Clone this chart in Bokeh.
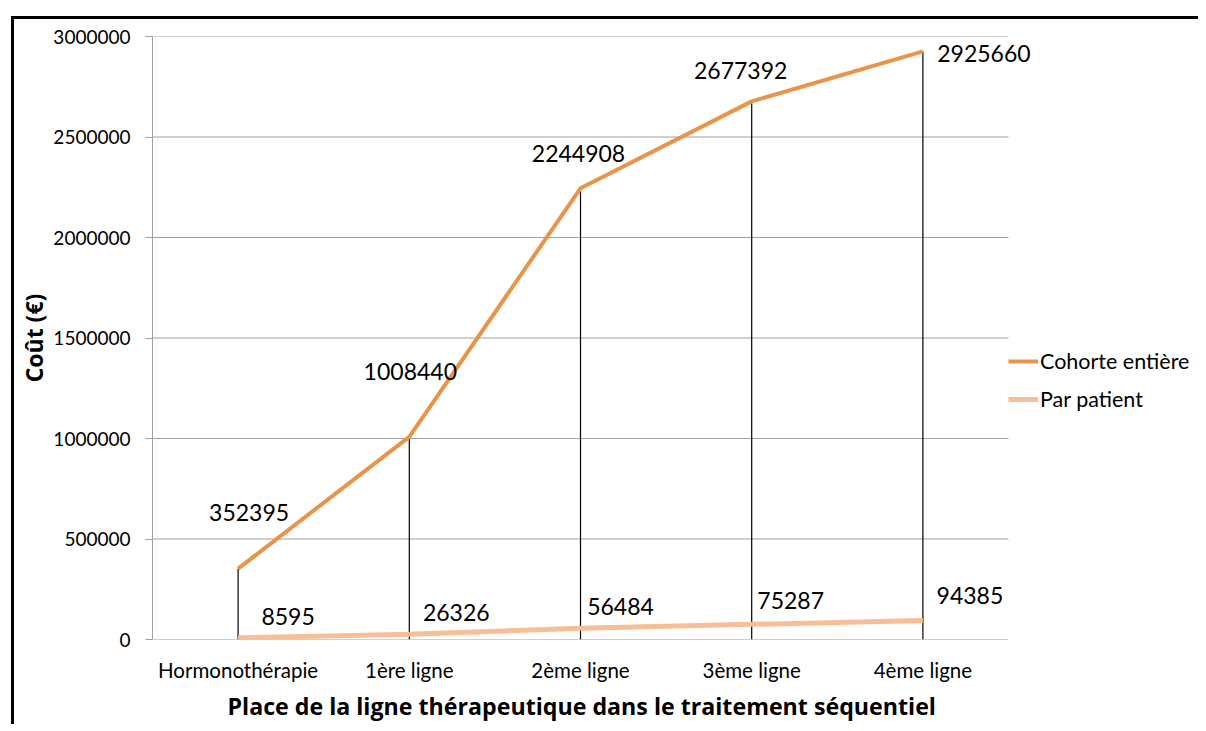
from bokeh.plotting import figure
from bokeh.models import (ColumnDataSource, Range1d, FixedTicker, Title,
                          NumeralTickFormatter, LabelSet, Legend, LegendItem)
from bokeh.core.properties import value
from bokeh.embed import file_html
from bokeh.resources import INLINE

# ---- data ----
categories = ["Hormonothérapie", "1ère ligne", "2ème ligne", "3ème ligne", "4ème ligne"]
cohorte = [352395, 1008440, 2244908, 2677392, 2925660]
par_patient = [8595, 26326, 56484, 75287, 94385]
y_ticks = [0, 500000, 1000000, 1500000, 2000000, 2500000, 3000000]
series_names = ["Cohorte entière", "Par patient"]
x_title = "Place de la ligne thérapeutique dans le traitement séquentiel"
y_title = "Coût (€)"

# ---- label offsets (style, screen px) ----
coh_dx = [11, 1, -2, -11, 61]
coh_dy = [56, 65, 35, 31, -2]
pp_dx = [50, 47, 40, 39, 47]
pp_dy = [21, 22, 22, 24, 25]

FONT = "Lato"
TFONT = "Open Sans"
GRID = "#A0A0A0"
C_COH = "#E8944A"
C_PP = "#F8BE96"

n = len(categories)
x_pos = [i + 0.5 for i in range(n)]          # category centres on the axis scale
PLOT_W = 856                                  # width of the category area (px)
FRAME_W = 1046                                # frame also holds legend / labels

src = ColumnDataSource(dict(
    x=x_pos, coh=cohorte, pp=par_patient,
    coh_txt=[str(v) for v in cohorte], pp_txt=[str(v) for v in par_patient],
    coh_dx=coh_dx, coh_dy=coh_dy, pp_dx=pp_dx, pp_dy=pp_dy,
    zero=[0] * n,
))
grid_src = ColumnDataSource(dict(y=y_ticks, x0=[0] * len(y_ticks), x1=[n] * len(y_ticks)))

p = figure(x_range=Range1d(0, n * FRAME_W / PLOT_W),
           y_range=Range1d(0, 3000000),
           frame_width=FRAME_W, frame_height=603,
           output_backend="svg", toolbar_location=None,
           min_border_left=152, min_border_right=0, min_border_top=36, min_border_bottom=76)
# outer black frame lines (top and left) drawn as the host background
p.styles = {
    "background-image": "linear-gradient(#000, #000), linear-gradient(#000, #000)",
    "background-size": "100% 3px, 3px 100%",
    "background-position": "11px 16px, 11px 16px",
    "background-repeat": "no-repeat",
}
p.outline_line_color = None
p.background_fill_color = "white"
p.border_fill_color = None

# grids (drawn over the category area only)
p.xgrid.grid_line_color = None
p.ygrid.grid_line_color = None
p.segment(x0="x0", y0="y", x1="x1", y1="y", source=grid_src, line_color=GRID, line_width=1)

# y axis
p.yaxis.ticker = FixedTicker(ticks=y_ticks)
p.yaxis.formatter = NumeralTickFormatter(format="0")
p.yaxis.axis_line_color = GRID
p.yaxis.major_tick_line_color = GRID
p.yaxis.major_tick_out = 7
p.yaxis.major_tick_in = 0
p.yaxis.minor_tick_line_color = None
p.yaxis.major_label_text_font = FONT
p.yaxis.major_label_text_font_size = "19px"
p.yaxis.major_label_text_color = "black"
p.yaxis.major_label_standoff = 15
p.yaxis.axis_label = y_title
p.yaxis.axis_label_text_font = TFONT
p.yaxis.axis_label_text_font_size = "23px"
p.yaxis.axis_label_text_font_style = "bold"
p.yaxis.axis_label_text_color = "black"
p.yaxis.axis_label_standoff = 0

# x axis
p.xaxis.ticker = FixedTicker(ticks=x_pos)
p.xaxis.major_label_overrides = {x: c for x, c in zip(x_pos, categories)}
p.xaxis.axis_line_color = None
p.xaxis.major_tick_line_color = None
p.xaxis.minor_tick_line_color = None
p.xaxis.major_label_text_font = FONT
p.xaxis.major_label_text_font_size = "20.5px"
p.xaxis.major_label_text_color = "black"
p.xaxis.major_label_standoff = 12

p.add_layout(Title(text=x_title, align="left", offset=75, standoff=6,
                   text_font=TFONT, text_font_size="23.2px", text_font_style="bold",
                   text_color="black"), "below")

# drop lines
p.segment(x0="x", y0="zero", x1="x", y1="coh", source=src,
          line_color="black", line_width=1.2)

# series
r_pp = p.line("x", "pp", source=src, line_color=C_PP, line_width=5)
r_coh = p.line("x", "coh", source=src, line_color=C_COH, line_width=4)

# data labels
for txt, y, dx, dy in [("coh_txt", "coh", "coh_dx", "coh_dy"),
                       ("pp_txt", "pp", "pp_dx", "pp_dy")]:
    p.add_layout(LabelSet(x="x", y=y, text=txt, source=src,
                          x_offset=dx, y_offset=dy,
                          text_align="center", text_baseline="middle",
                          text_font=value(FONT), text_font_size=value("23px"),
                          text_color="black"))

legend = Legend(items=[LegendItem(label=series_names[0], renderers=[r_coh]),
                       LegendItem(label=series_names[1], renderers=[r_pp])],
                location=(PLOT_W, 227), padding=0, margin=0,
                border_line_color=None, background_fill_alpha=0,
                glyph_width=30, glyph_height=20, label_standoff=2, spacing=12,
                label_text_font=FONT, label_text_font_size="21.5px",
                label_text_color="black")
p.add_layout(legend)

open("out.html", "w").write(file_html(p, INLINE))
